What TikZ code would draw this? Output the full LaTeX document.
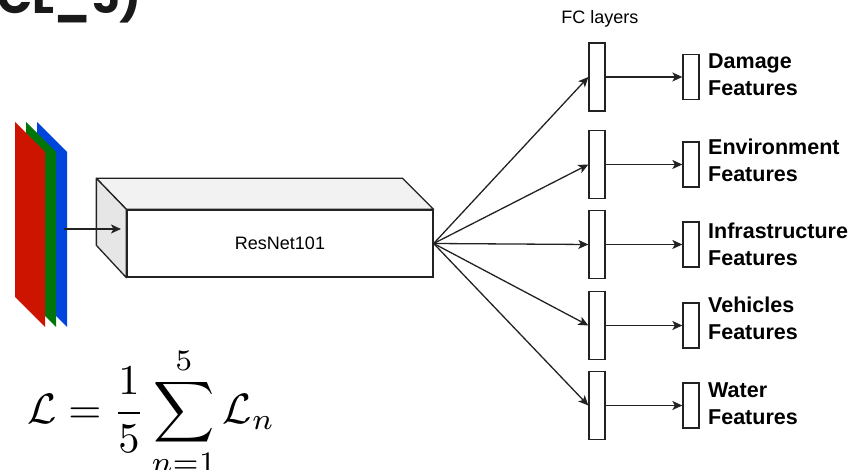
\documentclass[tikz,border=0pt]{standalone}
\usepackage{graphicx}
\usepackage{fontspec}
\setmainfont{Liberation Sans}
\newfontfamily\popfont{Poppins}
\usetikzlibrary{arrows.meta}
\definecolor{cred}{RGB}{204,20,0}
\definecolor{cgreen}{RGB}{0,118,10}
\definecolor{cblue}{RGB}{0,68,222}
\definecolor{lineg}{RGB}{34,34,34}
\definecolor{topg}{RGB}{242,242,242}
\definecolor{sideg}{RGB}{230,230,230}
\tikzset{
  ln/.style={draw=lineg, line width=1.3pt},
  arr/.style={ln, -{Stealth[length=10pt,width=9pt,inset=2.5pt]}},
  fcbox/.style={ln, fill=white, minimum width=16pt, minimum height=68pt, inner sep=0pt},
  featbox/.style={ln, fill=white, minimum width=16pt, minimum height=45pt, inner sep=0pt},
  featlabel/.style={anchor=west, align=left, inner sep=0pt,
    font=\fontsize{21.5}{27}\selectfont\bfseries, text=black},
}
\begin{document}
\begin{tikzpicture}[x=1pt,y=-1pt]
\useasboundingbox (0,0) rectangle (855,470);
% cut-off title
\node[anchor=base west, inner sep=0pt, font=\popfont\bfseries\fontsize{46}{50}\selectfont, text=black!90] (title) at (-3,14) {CL\_5)};
% RGB planes
\fill[cblue] (37,122) -- (67,152) -- (67,327) -- (37,297) -- cycle;
\fill[cgreen] (26,122) -- (56,152) -- (56,327) -- (26,297) -- cycle;
\fill[cred] (15,122) -- (45,152) -- (45,327) -- (15,297) -- cycle;
% ResNet cube
\node[ln, fill=white, minimum width=306pt, minimum height=67pt, inner sep=0pt,
  font=\fontsize{18}{20}\selectfont] (res) at (280,243.5) {ResNet101};
\filldraw[ln, fill=topg, line join=round] (res.north west) -- ++(-30,-31) -- ([shift={(-31,-31)}]res.north east) -- (res.north east) -- cycle;
\filldraw[ln, fill=sideg, line join=round] (res.north west) -- ++(-30,-31) -- ++(0,67) -- (res.south west) -- cycle;
\coordinate (inStart) at (64,229);
\coordinate (inEnd) at (121,229);
\draw[arr] (inStart) -- (inEnd);
% FC layers
\node[font=\fontsize{18}{20}\selectfont] (fclabel) at (600,19) {FC layers};
\foreach \i/\y in {1/77,2/164.5,3/244.5,4/325.5,5/405.5}{
  \node[fcbox] (fc\i) at (597,\y) {};
  \node[featbox] (ft\i) at (691,\y) {};
  \draw[arr] (res.east) -- (fc\i.west);
  \draw[arr] (fc\i.east) -- (ft\i.west);
}
\node[featlabel] (l1) at (708,75) {Damage\\Features};
\node[featlabel] (l2) at (708,160) {Environment\\Features};
\node[featlabel] (l3) at (708,244) {Infrastructure\\Features};
\node[featlabel] (l4) at (708,318) {Vehicles\\Features};
\node[featlabel] (l5) at (708,404) {Water\\Features};
% loss formula
\node[anchor=west, inner sep=0pt] (loss) at (27,412)
  {\scalebox{4.25}{$\displaystyle \mathcal{L} = \frac{1}{5}\sum_{n=1}^{5}\mathcal{L}_n$}};
\end{tikzpicture}
\end{document}
